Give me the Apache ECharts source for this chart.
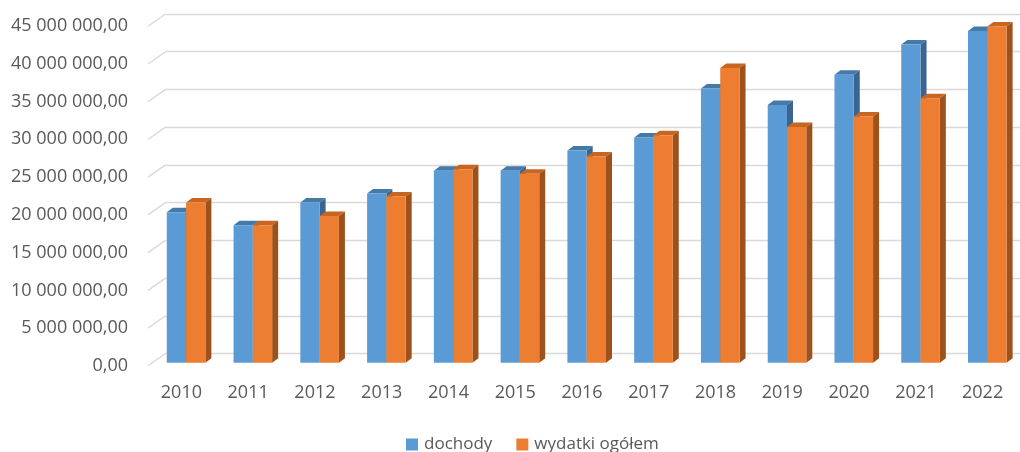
<!DOCTYPE html>
<html>
<head>
<meta charset="utf-8">
<script src="https://cdn.jsdelivr.net/npm/echarts@6/dist/echarts.min.js"></script>
<style>
  html, body { margin: 0; padding: 0; background: #fff; }
  #chart { width: 1020px; height: 452px; }
</style>
</head>
<body>
<div id="chart"></div>
<script>
const years = ['2010', '2011', '2012', '2013', '2014', '2015', '2016', '2017', '2018', '2019', '2020', '2021', '2022']
const dochody = [19.9e6, 18.2e6, 21.2e6, 22.4e6, 25.4e6, 25.4e6, 28.1e6, 29.8e6, 36.3e6, 34.1e6, 38.1e6, 42.1e6, 43.9e6]
const wydatki = [21.2e6, 18.2e6, 19.4e6, 22.0e6, 25.6e6, 25.0e6, 27.3e6, 30.1e6, 39.0e6, 31.2e6, 32.6e6, 35.0e6, 44.5e6]
const yTicks = [0, 5e6, 10e6, 15e6, 20e6, 25e6, 30e6, 35e6, 40e6, 45e6]

const textColor = '#595959'
const fontFamily = '"Open Sans", sans-serif'

// depth of the bars and of the back wall, in px
const barDepth = [6, -4.5]
const wallDepth = [17.5, -12.3]
const barWidth = 19.3

// Polish number format: "45 000 000,00"
const fmt = (v) => {
  const s = Math.round(v).toString().replace(/\B(?=(\d{3})+(?!\d))/g, ' ')
  return s + ',00'
}

const makeBar = (offset, front, top, side) => (params, api) => {
  const p = api.coord([api.value(0), api.value(1)])
  const base = api.coord([api.value(0), 0])
  const x0 = p[0] + offset
  const x1 = x0 + barWidth
  const [dx, dy] = barDepth
  return {
    type: 'group',
    children: [
      {
        type: 'polygon',
        shape: { points: [[x0, p[1]], [x1, p[1]], [x1 + dx, p[1] + dy], [x0 + dx, p[1] + dy]] },
        style: { fill: top },
      },
      {
        type: 'polygon',
        shape: { points: [[x1, p[1]], [x1 + dx, p[1] + dy], [x1 + dx, base[1] + dy], [x1, base[1]]] },
        style: { fill: side },
      },
      {
        type: 'rect',
        shape: { x: x0, y: p[1], width: barWidth, height: base[1] - p[1] },
        style: { fill: front },
      },
    ],
  }
}

const chart = echarts.init(document.getElementById('chart'))

const option = {
  animation: false,
  legend: {
    left: 401,
    top: 431,
    itemWidth: 12,
    itemHeight: 12,
    itemGap: 24,
    icon: 'rect',
    textStyle: { color: textColor, fontSize: 17, fontFamily: fontFamily, padding: [0, 0, 0, 1] },
    data: [
      { name: 'dochody', itemStyle: { color: '#5b9bd5' } },
      { name: 'wydatki ogółem', itemStyle: { color: '#ed7d31' } },
    ],
  },
  grid: [
    // back wall with gridlines
    { left: 165.5, right: 0, top: 14, bottom: 98.5 },
    // front plane, y labels
    { left: 148, right: 4, top: 26, bottom: 86 },
    // plane of the bars
    { left: 148, right: 4, top: 22.7, bottom: 89.3 },
  ],
  xAxis: [
    { gridIndex: 0, type: 'category', data: years, show: false },
    { gridIndex: 1, type: 'category', data: years, show: false },
    {
      gridIndex: 2,
      type: 'category',
      data: years,
      axisLine: { show: false },
      axisTick: { show: false },
      axisLabel: { color: textColor, fontSize: 18, fontFamily: fontFamily, margin: 21 },
    },
  ],
  yAxis: [
    {
      gridIndex: 0,
      type: 'value',
      min: 0,
      max: 45e6,
      interval: 5e6,
      axisLabel: { show: false },
      axisLine: { show: false },
      axisTick: { show: false },
      splitLine: { lineStyle: { color: '#d9d9d9', width: 1.4 } },
    },
    {
      gridIndex: 1,
      type: 'value',
      min: 0,
      max: 45e6,
      interval: 5e6,
      axisLine: { show: false },
      axisTick: { show: false },
      splitLine: { show: false },
      axisLabel: {
        color: textColor,
        fontSize: 18,
        fontFamily: fontFamily,
        margin: 20,
        formatter: fmt,
      },
    },
    {
      gridIndex: 2,
      type: 'value',
      min: 0,
      max: 45e6,
      interval: 5e6,
      show: false,
    },
  ],
  series: [
    {
      // diagonal lines joining the wall to the front plane
      type: 'custom',
      xAxisIndex: 0,
      yAxisIndex: 0,
      silent: true,
      data: yTicks.map((v) => [0, v]),
      renderItem: (params, api) => {
        const y = api.coord([0, api.value(1)])[1]
        const x = params.coordSys.x
        return {
          type: 'line',
          shape: { x1: x - wallDepth[0], y1: y - wallDepth[1], x2: x, y2: y },
          style: { stroke: '#d9d9d9', lineWidth: 1.4 },
        }
      },
    },
    {
      name: 'dochody',
      type: 'custom',
      xAxisIndex: 2,
      yAxisIndex: 2,
      data: dochody.map((v, i) => [i, v]),
      renderItem: makeBar(-14.6, '#5b9bd5', '#4579a8', '#3b6591'),
    },
    {
      name: 'wydatki ogółem',
      type: 'custom',
      xAxisIndex: 2,
      yAxisIndex: 2,
      data: wydatki.map((v, i) => [i, v]),
      renderItem: makeBar(4.7, '#ed7d31', '#c8651f', '#9e521b'),
    },
  ],
}

chart.setOption(option)
</script>
</body>
</html>
